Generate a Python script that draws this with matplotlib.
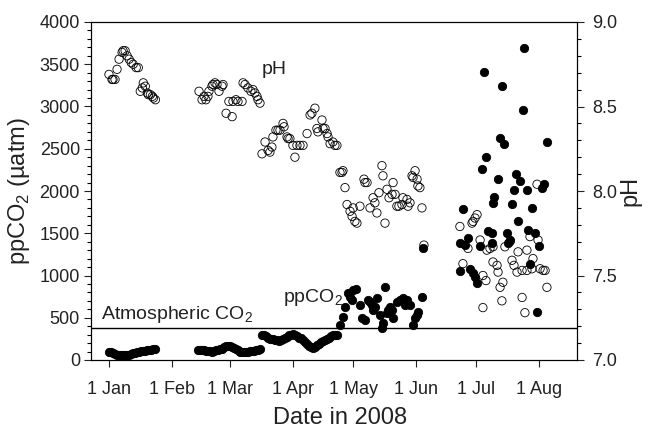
import matplotlib
matplotlib.use("Agg")
import matplotlib.pyplot as plt
from matplotlib.ticker import MultipleLocator, FormatStrFormatter

plt.rcParams["font.family"] = ["Liberation Sans", "DejaVu Sans"]
plt.rcParams["mathtext.fontset"] = "custom"
plt.rcParams["mathtext.rm"] = "Liberation Sans"

# day of year 2008 (0 = 1 Jan)
TICK_DAYS = [0, 31, 60, 91, 121, 152, 182, 213]
TICK_LABELS = ["1 Jan", "1 Feb", "1 Mar", "1 Apr", "1 May", "1 Jun", "1 Jul", "1 Aug"]
ATMOSPHERIC_CO2 = 380

# pH (open circles)
ph_days = [
    0, 1.5, 2, 3, 4, 5, 6.5, 7, 8, 9, 10, 11, 12, 13.5, 14.5,
    15.5, 16.5, 17, 18, 19, 19.5, 20.5, 21.5, 22, 23,
    44.6, 46.1, 47.1, 48.0, 49.0, 49.5, 51.0, 51.5, 52.5, 53.5, 54.5, 56.0, 56.5,
    58.0, 61.0, 59.4, 61.4, 62.9, 63.9, 65.9, 66.4, 67.4, 68.8, 70.3, 71.3, 72.3,
    73.3, 73.8, 74.8,
    75.8, 77.3, 78.8, 79.7, 80.7, 81.2, 82.7, 83.7, 84.7, 86.2, 86.7, 88.2, 88.7,
    89.6, 91.1, 92.1, 93.1, 94.6, 96.1, 98.1, 99.6, 100.5, 102.0, 103.0, 103.5,
    105.5, 106.0, 107.0, 108.0, 108.5, 109.5, 110.9, 111.9, 112.9,
    114.4, 115.4, 115.9, 116.9, 117.9, 119.4, 120.4, 120.9, 121.8, 122.8, 124.3,
    126.3, 126.8, 127.8, 129.3, 130.8, 131.7, 132.7, 133.7, 135.2, 135.7, 136.7,
    137.7, 138.7, 140.2, 140.7, 141.7, 142.6, 143.6, 145.1, 145.6, 147.6, 148.1,
    149.1, 150.1, 150.6, 151.6, 152.6, 153.0, 154.0, 155.0, 156.0,
    173.8, 179.8, 181.3, 182.3, 180.3, 183.8, 177.8, 188.7, 190.2, 187.2, 196.1,
    198.6, 202.6, 207.0, 208.5, 212.5, 210.0, 175.3, 190.2, 192.2, 192.7, 199.6,
    200.6, 202.1, 204.6, 207.0, 209.5, 213.5, 215.0, 216.0, 185.2, 186.7, 193.7,
    195.1, 216.9, 185.2, 194.6, 204.6, 206.0, 212.0,
]
ph_values = [
    8.69, 8.66, 8.66, 8.66, 8.72, 8.78, 8.82, 8.83, 8.83, 8.80, 8.78, 8.76, 8.75, 8.73, 8.73,
    8.59, 8.61, 8.64, 8.62, 8.58, 8.57, 8.57, 8.56, 8.55, 8.54,
    8.59, 8.54, 8.56, 8.54, 8.56, 8.59, 8.62, 8.63, 8.64, 8.63, 8.59, 8.62, 8.63,
    8.46, 8.44, 8.53, 8.53, 8.54, 8.53, 8.53, 8.64, 8.63, 8.61, 8.59, 8.60, 8.58,
    8.56, 8.54, 8.52,
    8.22, 8.29, 8.24, 8.23, 8.26, 8.32, 8.36, 8.36, 8.36, 8.40, 8.38, 8.32, 8.31,
    8.31, 8.27, 8.20, 8.27, 8.27, 8.27, 8.34, 8.45, 8.46, 8.49, 8.37, 8.35,
    8.42, 8.37, 8.37, 8.34, 8.32, 8.28, 8.29, 8.27, 8.27,
    8.11, 8.11, 8.12, 8.02, 7.92, 7.88, 7.85, 7.90, 7.82, 7.81, 7.91,
    8.07, 8.05, 8.05, 7.90, 7.96, 7.93, 7.87, 7.99, 8.15, 8.09, 7.81,
    8.01, 7.96, 7.98, 8.05, 7.98, 7.91, 7.91, 7.92, 7.96, 7.95, 7.91,
    7.93, 8.09, 8.08, 8.12, 8.07, 8.03, 8.02, 7.90, 7.68,
    7.79, 7.81, 7.84, 7.86, 7.82, 7.71, 7.66, 7.66, 7.67, 7.65, 7.67,
    7.70, 7.64, 7.65, 7.73, 7.71, 7.60, 7.57, 7.58, 7.56, 7.52, 7.59,
    7.56, 7.52, 7.53, 7.53, 7.54, 7.54, 7.53, 7.53, 7.50, 7.47, 7.43,
    7.46, 7.43, 7.31, 7.35, 7.37, 7.28, 8.04,
]

# ppCO2 in uatm (filled circles)
co2_days = (
    list(range(0, 24))
    + list(range(44, 76))
    + list(range(76, 114))
    + [
        114.4, 115.9, 116.9, 118.4, 119.4, 120.4, 120.9, 122.3, 124.3, 125.3, 126.8,
        128.3, 129.3, 130.3, 130.8, 131.7, 132.7, 134.2, 135.2, 135.7, 136.7, 137.7,
        138.2, 139.2, 140.2, 140.7, 142.6, 144.1, 145.6, 146.6, 147.6, 149.1, 150.6,
        151.6, 152.6, 153.0, 155.0, 155.5,
        205.5, 185.7, 194.6, 205.1, 193.7, 195.6, 216.9, 186.7, 184.7, 192.7, 201.6,
        203.6, 215.4, 214.5, 200.6, 207.0, 175.3, 190.7, 190.2, 199.6, 209.5, 202.6,
        187.7, 189.7, 197.1, 207.5, 211.0, 173.8, 176.3, 177.8, 183.8, 189.7, 197.6,
        198.6, 213.0, 173.8, 178.8, 180.3, 181.3, 182.3, 208.5, 212.0,
    ]
)
co2_values = [
    95, 90, 85, 75, 65, 60, 55, 55, 60, 60, 65, 70, 80, 85, 90, 100, 105, 105, 110, 115,
    120, 120, 125, 130,
    120, 120, 115, 115, 110, 105, 105, 100, 110, 115, 120, 125, 135, 150, 165, 170,
    160, 150, 140, 130, 115, 100, 95, 95, 100, 100, 105, 110, 110, 115, 120, 125,
    300, 290, 280, 265, 250, 245, 240, 235, 230, 240, 250, 260, 275, 290, 300, 310,
    295, 280, 265, 255, 240, 215, 185, 160, 150, 140, 155, 175, 195, 210, 220, 235,
    250, 265, 280, 290, 295, 300,
    414, 509, 627, 793, 746, 710, 828, 840, 651, 497, 473,
    710, 686, 651, 592, 627, 734, 533, 379, 438, 864, 556,
    592, 627, 592, 497, 686, 710, 734, 651, 710, 651, 414,
    497, 533, 568, 746, 1325,
    3692, 3408, 3243, 2959, 2627, 2556, 2580, 2402, 2260, 2142, 2201,
    2118, 2083, 2036, 2012, 2012, 1787, 1929, 1858, 1846, 1799, 1645,
    1527, 1503, 1503, 1538, 1503, 1385, 1361, 1444, 1349, 1385, 1385,
    1420, 1349, 1053, 1077, 1030, 982, 911, 1136, 568,
]

fig = plt.figure(figsize=(6.54, 4.30), dpi=100)
ax = fig.add_axes([91 / 654, 70 / 430, 486 / 654, 338 / 430])
ax2 = ax.twinx()

ax.scatter(co2_days, co2_values, s=36, color="black", edgecolors="black", linewidths=0.6, zorder=3)
ax2.scatter(ph_days, ph_values, s=36, facecolors="none", edgecolors="black", linewidths=0.6, zorder=3)
ax.axhline(ATMOSPHERIC_CO2, color="black", linewidth=1.0)

ax.set_xlim(-8.9, 231.8)
ax.set_ylim(0, 4000)
ax2.set_ylim(7.0, 9.0)

ax.set_xticks(TICK_DAYS)
ax.set_xticklabels(TICK_LABELS)
ax.yaxis.set_major_locator(MultipleLocator(500))
ax.yaxis.set_minor_locator(MultipleLocator(100))
ax2.yaxis.set_major_locator(MultipleLocator(0.5))
ax2.yaxis.set_minor_locator(MultipleLocator(0.1))
ax2.yaxis.set_major_formatter(FormatStrFormatter("%.1f"))

for a in (ax, ax2):
    a.tick_params(which="major", direction="out", length=5, width=0.8, labelsize=13, colors="#222222")
    a.tick_params(which="minor", direction="out", length=3, width=0.8)
ax.tick_params(axis="x", pad=10)
ax.tick_params(axis="y", pad=3)
ax2.tick_params(axis="y", pad=6)

ax.set_xlabel("Date in 2008", fontsize=17, color="#222222")
ax.set_ylabel("ppCO$_2$ (µatm)", fontsize=17, color="#222222")
ax2.set_ylabel("pH", fontsize=17, color="#222222")
ax.xaxis.set_label_coords(0.512, -0.14)
ax.yaxis.set_label_coords(-0.121, 0.5)
ax2.yaxis.set_label_coords(1.088, 0.5)

ax.text(75.8, 3385, "pH", fontsize=14, ha="left", va="baseline", color="#222222")
ax.text(86.2, 686, "ppCO$_2$", fontsize=14, ha="left", va="baseline", color="#222222")
ax.text(-4.0, 485, "Atmospheric CO$_2$", fontsize=14, ha="left", va="baseline", color="#222222")

fig.savefig("out.png", dpi=100)
